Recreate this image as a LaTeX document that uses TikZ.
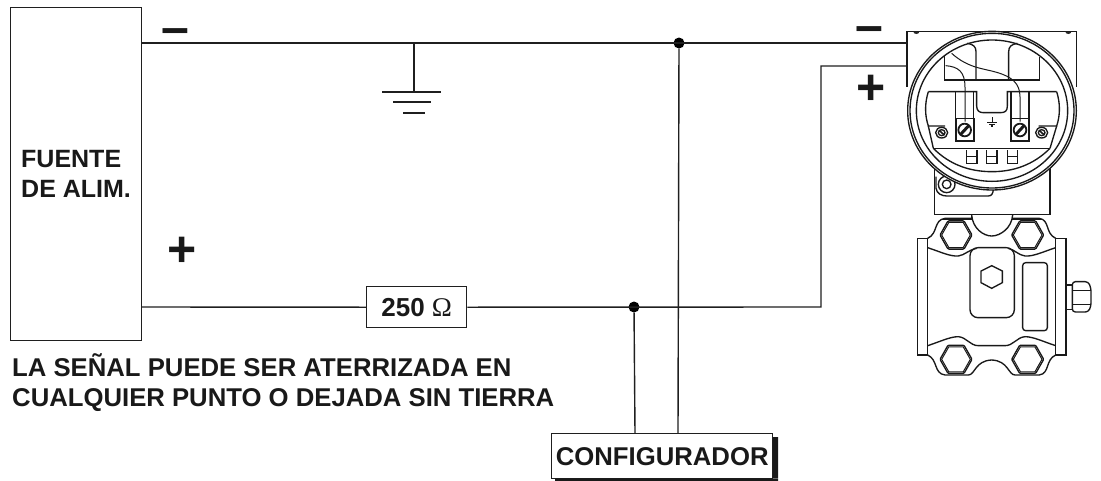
\documentclass[tikz,border=0pt]{standalone}
\usepackage{fontspec}
\setmainfont{Liberation Sans}
\newfontfamily\omegafont{Liberation Serif}
\newcommand{\hexnut}[3]{%
  \draw[thin line, rounded corners=1pt] (#1-#3,#2) -- (#1-#3/2,#2-#3*0.88) -- (#1+#3/2,#2-#3*0.88) -- (#1+#3,#2) -- (#1+#3/2,#2+#3*0.88) -- (#1-#3/2,#2+#3*0.88) -- cycle;
  \draw[hair line] (#1-#3+5,#2) -- (#1-#3/2+2.5,#2-#3*0.88+4.5) -- (#1+#3/2-2.5,#2-#3*0.88+4.5) -- (#1+#3-5,#2) -- (#1+#3/2-2.5,#2+#3*0.88-4.5) -- (#1-#3/2+2.5,#2+#3*0.88-4.5) -- cycle;}
\tikzset{
  wire/.style={line width=1.4pt,draw=black!88},
  thin line/.style={line width=1.35pt,draw=black!90},
  hair line/.style={line width=1pt,draw=black!90},
  boxnode/.style={draw=black!88,line width=1.4pt,fill=white,inner sep=0pt,anchor=north west,font=\bfseries\fontsize{25.7}{28}\selectfont,text=black!90},
  junction/.style={circle,fill=black,inner sep=0pt,minimum size=11pt},
  label/.style={inner sep=0pt,font=\bfseries,text=black!90},
  sign/.style={inner sep=0pt,font=\bfseries\fontsize{50}{50}\selectfont,text=black!90},
}
\begin{document}
\begin{tikzpicture}[x=1pt,y=-1pt]
\useasboundingbox (0,0) rectangle (1101,480);
% ---- transmitter, drawn in crops' coordinates
\begin{scope}[xshift=880pt,x=0.33333pt,y=-0.33333pt]
  % lower neck
  \draw[thin line,fill=white] (163,500) -- (163,643) -- (510,643) -- (510,500);
  \draw[thin line] (185,658) -- (275,658) -- (275,643) (398,643) -- (398,658) -- (490,658);
  % housing
  \draw[thin line,fill=white] (81,260) -- (81,95) -- (590,95) -- (590,262);
  \fill[black!85] (100,95) arc (180:0:9 and 7) -- cycle (556,95) arc (180:0:9 and 7) -- cycle;
  % boss
  \draw[thin line,fill=white] (168,530) -- (168,565) .. controls (170,580) and (185,588) .. (200,588) -- (325,588) .. controls (335,588) and (340,580) .. (340,565);
  \draw[thin line] (200,553) circle (25 and 25);
  \draw[thin line] (200,553) circle (13 and 13);
  % rings
  \draw[thin line,fill=white] (336,332) ellipse (253 and 238);
  \draw[thin line] (336,332) ellipse (246 and 232);
  \draw[thin line] (336,332) ellipse (227 and 212);
  % upper inner block
  \draw[thin line] (193,165) -- (193,240) -- (478,240) -- (478,170);
  \draw[thin line] (288,240) -- (288,155) .. controls (288,140) and (280,133) .. (262,130);
  \draw[thin line] (386,240) -- (386,155) .. controls (386,140) and (394,133) .. (412,130);
  % inner wires
  \draw[hair line] (197,197) .. controls (235,200) and (255,215) .. (255,262) -- (255,365);
  \draw[hair line] (215,160) .. controls (265,205) and (310,205) .. (350,217) .. controls (395,230) and (420,250) .. (420,290) -- (420,365);
  % terminal block
  \draw[thin line] (145,275) -- (290,275) -- (290,318) .. controls (290,332) and (298,338) .. (310,338) -- (362,338) .. controls (376,338) and (382,332) .. (382,318) -- (382,275) -- (530,275);
  \draw[thin line] (145,275) .. controls (134,310) and (134,345) .. (145,378) -- (195,378);
  \draw[thin line] (530,275) .. controls (541,310) and (541,345) .. (530,378) -- (476,378);
  \draw[thin line] (145,378) -- (160,445) (530,378) -- (510,445);
  \draw[thin line] (160,445) -- (510,445);
  \draw[thin line] (160,445) .. controls (210,495) and (270,515) .. (336,515) .. controls (400,515) and (460,495) .. (510,445);
  % terminals
  \foreach \tx in {227,393}{
    \draw[thin line] (\tx,275) -- (\tx,355) (\tx+54,275) -- (\tx+54,355);
    \draw[thin line] (\tx,355) -- (\tx+54,355);
    \draw[line width=2.2pt,draw=black!90] (\tx,355) -- (\tx,422) -- (\tx+54,422) -- (\tx+54,355);
    \draw[line width=1.8pt,draw=black!90] (\tx+27,390) circle (19 and 19);
    \draw[line width=3pt,draw=black!90] (\tx+15,403) -- (\tx+39,377);
  }
  % small screws
  \foreach \sx in {185,485}{
    \draw[thin line] (\sx,398) circle (18 and 16);
    \draw[thin line] (\sx,398) circle (10 and 9);
    \draw[line width=1.6pt,draw=black!90] (\sx-8,391) -- (\sx+8,405);
  }
  % ground mark
  \draw[hair line] (336,352) -- (336,368);
  \draw[line width=1.2pt,draw=black!90] (322,368) -- (350,368) (327,373) -- (345,373) (332,378) -- (340,378);
  % tabs
  \foreach \gx in {260,320,382}{
    \draw[thin line] (\gx,450) -- (\gx,490) -- (\gx+31,490) -- (\gx+31,450);
    \draw[thin line] (\gx,470) -- (\gx+31,470);
  }
\end{scope}
\begin{scope}[xshift=900pt,yshift=-200pt,x=0.33333pt,y=-0.33333pt]
  % end plates
  \draw[thin line] (53,115) rectangle (83,465);
  \draw[thin line] (467,115) rectangle (498,465);
  % flange outline
  \draw[thin line] (215,45) .. controls (218,85) and (250,108) .. (275,108) .. controls (300,108) and (335,85) .. (338,45);
  \draw[thin line] (215,55) -- (135,55) .. controls (100,60) and (115,100) .. (83,115);
  \draw[thin line] (338,55) -- (418,55) .. controls (450,60) and (435,100) .. (467,115);
  \draw[thin line] (83,465) .. controls (115,480) and (100,520) .. (135,525) -- (205,525) .. controls (225,525) and (225,482) .. (275,480) .. controls (325,482) and (325,525) .. (345,525) -- (418,525) .. controls (450,520) and (435,480) .. (467,465);
  % inner curves
  \draw[thin line] (83,143) .. controls (120,155) and (150,170) .. (175,168) .. controls (195,165) and (205,150) .. (230,145);
  \draw[thin line] (467,143) .. controls (430,155) and (400,170) .. (375,168) .. controls (355,165) and (345,150) .. (325,145);
  \draw[thin line] (83,437) .. controls (120,425) and (150,410) .. (175,410) .. controls (200,412) and (210,437) .. (235,437) -- (315,437) .. controls (340,437) and (350,412) .. (375,410) .. controls (400,410) and (430,425) .. (467,437);
  % plates
  \draw[thin line,rounded corners=8pt] (210,143) rectangle (343,353);
  \draw[thin line,rounded corners=3pt] (368,188) rectangle (442,392);
  % bolts
  \hexnut{168}{105}{48}
  \hexnut{383}{105}{48}
  \hexnut{168}{478}{48}
  \hexnut{383}{478}{48}
  % centre nut
  \draw[thin line] (275,197) -- (307,213) -- (307,248) -- (275,265) -- (243,248) -- (243,213) -- cycle;
  % side fitting
  \draw[thin line] (500,255) rectangle (517,328);
  \draw[thin line,rounded corners=3pt] (517,245) -- (565,245) -- (573,265) -- (573,318) -- (565,336) -- (517,336) -- cycle;
  \draw[hair line] (517,270) -- (573,270) (517,312) -- (573,312);
\end{scope}
% ---- named nodes
\node[boxnode,minimum width=131pt,minimum height=333pt] (fuente) at (10,7) {};
\node[label,font=\bfseries\fontsize{25}{30}\selectfont,align=left,anchor=north west] (fuentetxt) at (21,150) {FUENTE\\DE ALIM.};
\node[boxnode,minimum width=100pt,minimum height=41pt] (res) at (366,286) {\fontsize{26}{28}\selectfont 250 {\omegafont\mdseries\fontsize{27}{28}\selectfont Ω}};
\node[boxnode,minimum width=221pt,minimum height=45pt] (conf) at (551,433) {CONFIGURADOR};
\node[junction] (ja) at (679,43) {};
\node[junction] (jb) at (634,307) {};
\coordinate (fa) at (141,43);
\coordinate (fb) at (141,307);
\coordinate (gnd) at (414,43);
\coordinate (gndb) at (414,92);
\coordinate (ta) at (907,43);
\coordinate (tb) at (907,66);
\coordinate (bend) at (821,307);
\coordinate (bendt) at (821,66);
\coordinate (ca) at (635,433);
\coordinate (cb) at (678,433);
% shadow of configurator
\fill[black!90] (773,437) rectangle (778,478) (555,478.6) rectangle (778,483);
% ---- connectors
\draw[wire] (fa) -- (ta);
\draw[wire] (gnd) -- (gndb);
\draw[wire] (382,92) -- (441,92) (393,102) -- (431,102) (403,113) -- (425,113);
\draw[wire] (fb) -- (res.west);
\draw[wire] (res.east) -- (bend) -- (bendt) -- (tb);
\draw[wire] (jb) -- (ca);
\draw[wire] (ja) -- (cb);
% ---- texts
\node[sign] (m1) at (175,37) {–};
\node[sign] (m2) at (869,35) {–};
\node[sign] (p1) at (182,252) {+};
\node[sign] (p2) at (871,90) {+};
\node[label,font=\bfseries\fontsize{25.7}{30}\selectfont,align=left,anchor=north west] (nota) at (12,353) {LA SEÑAL PUEDE SER ATERRIZADA EN\\CUALQUIER PUNTO O DEJADA SIN TIERRA};
\end{tikzpicture}
\end{document}
